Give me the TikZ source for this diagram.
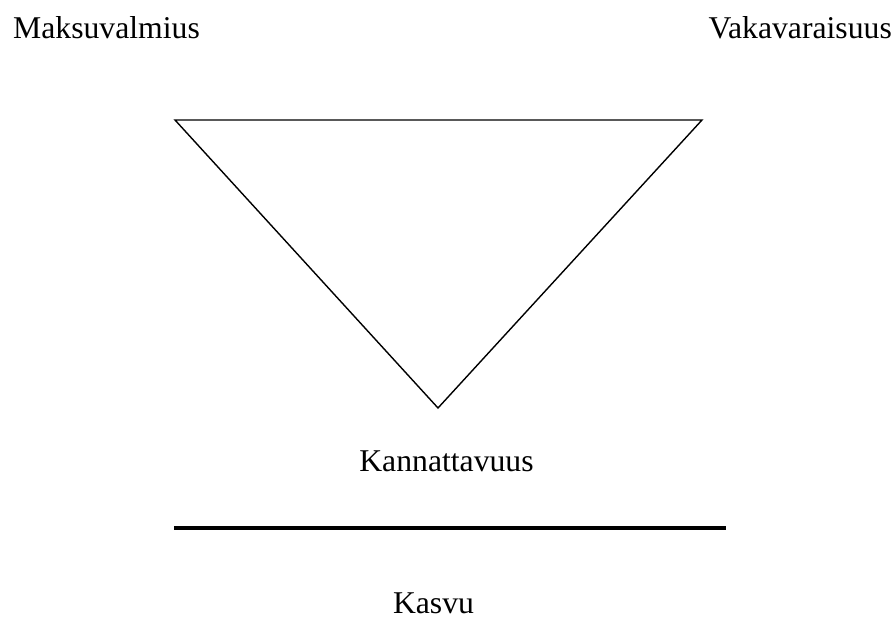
\documentclass[tikz,border=0pt]{standalone}
\usepackage{fontspec}
\setmainfont{Liberation Serif}
\begin{document}
\begin{tikzpicture}[x=1pt,y=1pt,
  lbl/.style={inner sep=0pt,font=\fontsize{31.7}{38}\selectfont},
  tri/.style={line width=1.4pt,line join=miter},
  bar/.style={line width=4pt}]
\useasboundingbox (0,0) rectangle (896,616);
\node[lbl,anchor=base west] (maksu) at (13,577) {Maksuvalmius};
\node[lbl,anchor=base east] (vaka) at (892,577) {Vakavaraisuus};
\node[lbl,anchor=base] (kann) at (446.5,145) {Kannattavuus};
\node[lbl,anchor=base] (kasvu) at (433.5,3) {Kasvu};
\coordinate (tl) at (175,496);
\coordinate (tr) at (702,496);
\coordinate (bt) at (438,208);
\draw[tri] (tl) -- (tr) -- (bt) -- cycle;
\coordinate (la) at (174,88);
\coordinate (lb) at (726,88);
\draw[bar] (la) -- (lb);
\end{tikzpicture}
\end{document}
